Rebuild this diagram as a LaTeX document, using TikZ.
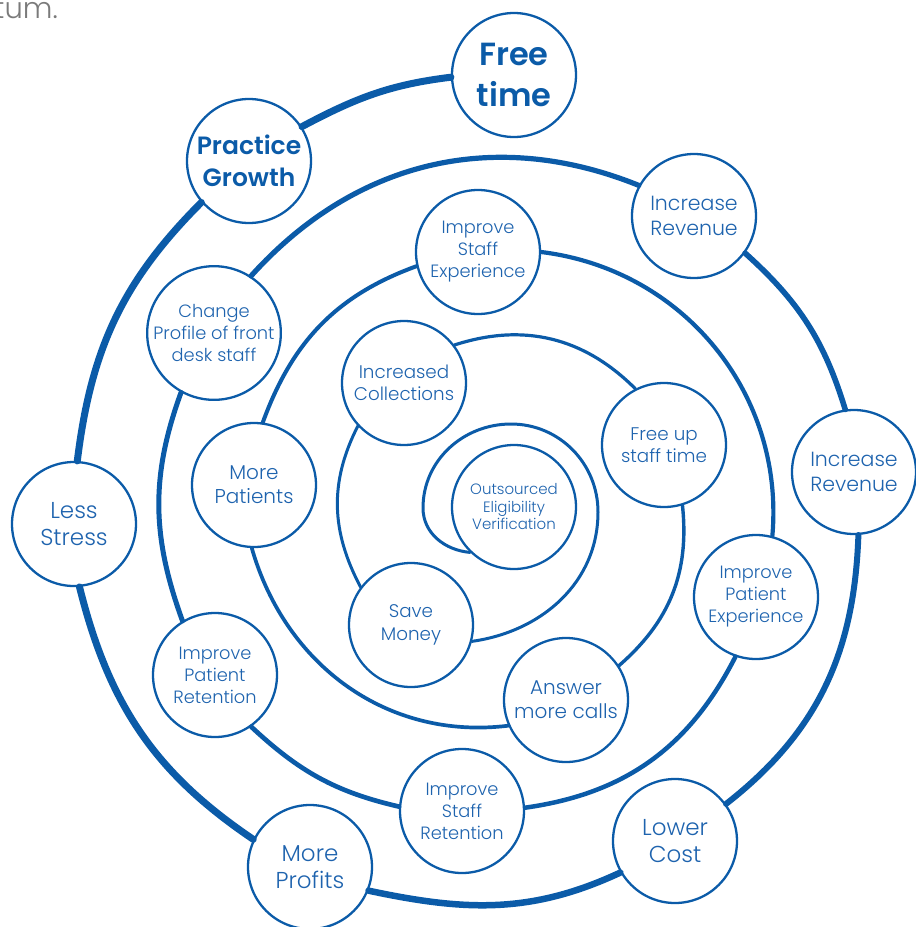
\documentclass[tikz,border=0pt]{standalone}
\usepackage{fontspec}
\setmainfont{Poppins}[UprightFont={* Light},BoldFont={* SemiBold}]
\definecolor{lineblue}{HTML}{0B5BA8}
\definecolor{txtblue}{HTML}{1E63AE}
\definecolor{greytxt}{HTML}{7A7A7A}
\begin{document}
\begin{tikzpicture}[x=1pt,y=1pt,
  bubble/.style={circle,draw=lineblue,line width=2.3pt,minimum size=124pt,inner sep=0pt,align=center,text=txtblue},
  fxs/.style={font=\fontsize{15}{17.5}\selectfont},
  fs/.style={font=\fontsize{17.8}{22}\selectfont},
  fsm/.style={font=\fontsize{18.3}{22.5}\selectfont},
  fm/.style={font=\fontsize{20}{24}\selectfont},
  fl/.style={font=\fontsize{20.5}{25.5}\selectfont},
  fll/.style={font=\fontsize{23}{27.5}\selectfont},
  fb/.style={font=\fontsize{25}{32}\selectfont\bfseries,text=lineblue},
  fh/.style={font=\fontsize{32}{41}\selectfont\bfseries,text=lineblue},
  spiral/.style={draw=lineblue,line cap=round}]
\useasboundingbox (0,0) rectangle (916,-927);
\node[anchor=base west,text=greytxt,font=\fontsize{29}{34}\selectfont,inner sep=0pt] (frag) at (-6,-18) {tum.};
% nodes
\node[bubble,fxs] (outs) at (514,-507) {Outsourced\\Eligibility\\Verification};
\node[bubble,fsm] (sm) at (411,-625) {Save\\Money};
\node[bubble,fsm] (ic) at (404,-383) {Increased\\Collections};
\node[bubble,fsm] (fu) at (664,-445) {Free up\\staff time};
\node[bubble,fm] (an) at (566,-700) {Answer\\more calls};
\node[bubble,fm] (mp) at (254,-485) {More\\Patients};
\node[bubble,fs] (ise) at (478,-252) {Improve\\Staff\\Experience};
\node[bubble,fs] (ipe) at (756,-597) {Improve\\Patient\\Experience};
\node[bubble,fs] (isr) at (462,-811) {Improve\\Staff\\Retention};
\node[bubble,fs] (ipr) at (215,-675) {Improve\\Patient\\Retention};
\node[bubble,fs] (cp) at (214,-333) {Change\\Profile of front\\desk staff};
\node[bubble,fl] (ir1) at (694,-216) {Increase\\Revenue};
\node[bubble,fl] (ir2) at (854,-472) {Increase\\Revenue};
\node[bubble,fll] (lc) at (675,-841) {Lower\\Cost};
\node[bubble,fll] (mpr) at (310,-867) {More\\Profits};
\node[bubble,fll] (ls) at (74,-524) {Less\\Stress};
\node[bubble,fb] (pg) at (249,-161) {Practice\\Growth};
\node[bubble,fh] (ft) at (514,-75) {Free\\time};
% loop coordinates
\coordinate (l1) at (423,-508);
\coordinate (l2) at (511,-424);
\coordinate (l3) at (598,-512);
% spiral
\draw[spiral,line width=3pt] (outs.-134) to[out=175,in=-90] (l1) to[out=90,in=180] (l2) to[out=0,in=90] (l3) to[out=-90,in=8] (sm.-15);
\draw[spiral,line width=3pt] (sm.143) to[out=118,in=-117] (ic.-137);
\draw[spiral,line width=3.2pt] (ic.37) to[out=18,in=135] (fu.117);
\draw[spiral,line width=3.4pt] (fu.-73) to[out=-84,in=41] (an.33);
\draw[spiral,line width=3.7pt] (an.-156) to[out=187,in=-74] (mp.-92);
\draw[spiral,line width=4pt] (mp.82) to[out=70,in=-160] (ise.-167);
\draw[spiral,line width=4.2pt] (ise.0) to[out=-7,in=85] (ipe.75);
\draw[spiral,line width=4.5pt] (ipe.-109) to[out=-117,in=8] (isr.3);
\draw[spiral,line width=4.7pt] (isr.176) to[out=167,in=-43] (ipr.-55);
\draw[spiral,line width=5pt] (ipr.121) to[out=110,in=-110] (cp.-119);
\draw[spiral,line width=5.2pt] (cp.57) to[out=48,in=158] (ir1.151);
\draw[spiral,line width=5.6pt] (ir1.-36) to[out=-42,in=107] (ir2.98);
\draw[spiral,line width=6pt] (ir2.-86) to[out=-92,in=38] (lc.36);
\draw[spiral,line width=6.5pt] (lc.-150) to[out=205,in=-12] (mpr.-22);
\draw[spiral,line width=7pt] (mpr.154) to[out=146,in=-76] (ls.-85);
\draw[spiral,line width=7pt] (ls.87) to[out=83,in=-135] (pg.-139);
\draw[spiral,line width=7pt] (pg.33) to[out=28,in=-173] (ft.-178);
\end{tikzpicture}
\end{document}
